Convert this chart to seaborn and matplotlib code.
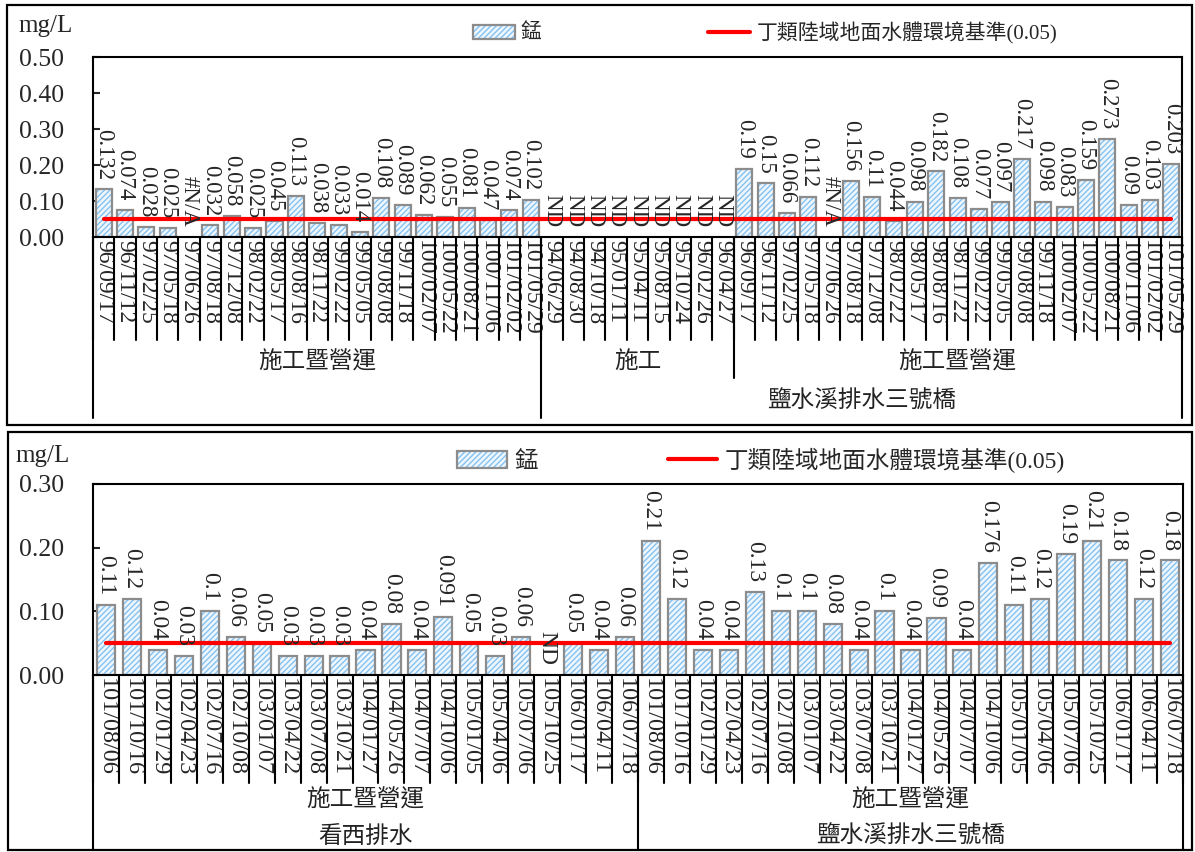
import numpy as np
import pandas as pd
import matplotlib
matplotlib.use("Agg")
import matplotlib.pyplot as plt
import seaborn as sns
from matplotlib.patches import Patch, Rectangle
from matplotlib.lines import Line2D
from matplotlib.legend_handler import HandlerTuple

# ------------------------------------------------------------------ data
top_dates_a = ["96/09/17", "96/11/12", "97/02/25", "97/05/18", "97/06/26", "97/08/18",
               "97/12/08", "98/02/22", "98/05/17", "98/08/16", "98/11/22", "99/02/22",
               "99/05/05", "99/08/08", "99/11/18", "100/02/07", "100/05/22", "100/08/21",
               "100/11/06", "101/02/02", "101/05/29"]
top_values_a = [0.132, 0.074, 0.028, 0.025, "#N/A", 0.032, 0.058, 0.025, 0.045, 0.113,
                0.038, 0.033, 0.014, 0.108, 0.089, 0.062, 0.055, 0.081, 0.047, 0.074, 0.102]
top_dates_b = ["94/06/29", "94/08/30", "94/10/18", "95/01/11", "95/04/11", "95/08/15",
               "95/10/24", "96/02/26", "96/04/27"]
top_values_b = ["ND", "ND", "ND", "ND", "ND", "ND", "ND", "ND", "ND"]
top_dates_c = ["96/09/17", "96/11/12", "97/02/25", "97/05/18", "97/06/26", "97/08/18",
               "97/12/08", "98/02/22", "98/05/17", "98/08/16", "98/11/22", "99/02/22",
               "99/05/05", "99/08/08", "99/11/18", "100/02/07", "100/05/22", "100/08/21",
               "100/11/06", "101/02/02", "101/05/29"]
top_values_c = [0.19, 0.15, 0.066, 0.112, "#N/A", 0.156, 0.11, 0.044, 0.098, 0.182,
                0.108, 0.077, 0.097, 0.217, 0.098, 0.083, 0.159, 0.273, 0.09, 0.103, 0.203]
top_groups = ["施工暨營運", "施工", "施工暨營運"]
top_station = "鹽水溪排水三號橋"

bottom_dates = ["101/08/06", "101/10/16", "102/01/29", "102/04/23", "102/07/16", "102/10/08",
                "103/01/07", "103/04/22", "103/07/08", "103/10/21", "104/01/27", "104/05/26",
                "104/07/07", "104/10/06", "105/01/05", "105/04/06", "105/07/06", "105/10/25",
                "106/01/17", "106/04/11", "106/07/18"]
bottom_values_a = [0.11, 0.12, 0.04, 0.03, 0.1, 0.06, 0.05, 0.03, 0.03, 0.03, 0.04, 0.08,
                   0.04, 0.091, 0.05, 0.03, 0.06, "ND", 0.05, 0.04, 0.06]
bottom_values_b = [0.21, 0.12, 0.04, 0.04, 0.13, 0.1, 0.1, 0.08, 0.04, 0.1, 0.04, 0.09,
                   0.04, 0.176, 0.11, 0.12, 0.19, 0.21, 0.18, 0.12, 0.18]
bottom_groups = ["施工暨營運", "施工暨營運"]
bottom_stations = ["看西排水", "鹽水溪排水三號橋"]

series_name = "錳"
standard_name = "丁類陸域地面水體環境基準(0.05)"
standard_value = 0.05
unit = "mg/L"
top_yticks = [0.0, 0.1, 0.2, 0.3, 0.4, 0.5]
bottom_yticks = [0.0, 0.1, 0.2, 0.3]

# ------------------------------------------------------------------ style
sns.set_style("white")
plt.rcParams["font.family"] = ["Liberation Serif", "Noto Sans CJK TC"]
plt.rcParams["hatch.linewidth"] = 1.0

FILL = "#eef6fe"
HATCH = "#86c2f0"
EDGE = "#8c8c8c"
W, H = 1195, 852

fig = plt.figure(figsize=(W / 100, H / 100), dpi=100)


def fx(px):
    return px / W


def fy(py):
    return 1 - py / H


def draw_panel(ax, dates, values, bar_w, ax_h_px, yticks, tick_fs, val_fs,
               groups, group_bounds, stations, station_bounds,
               tick_sep, group_sep, station_sep, group_y, station_y):
    n = len(dates)
    nums = [v if isinstance(v, (int, float)) else np.nan for v in values]
    df = pd.DataFrame({"pos": list(range(n)), "value": nums})
    order = list(range(n))
    sns.barplot(data=df, x="pos", y="value", order=order, width=bar_w, color=FILL,
                saturation=1, errorbar=None, edgecolor=HATCH, linewidth=0,
                hatch="//////", ax=ax, zorder=2)
    n0 = len(ax.patches)
    sns.barplot(data=df, x="pos", y="value", order=order, width=bar_w, color=FILL,
                saturation=1, errorbar=None, ax=ax, zorder=2.5)
    for p in ax.patches[n0:]:
        p.set_facecolor("none")
        p.set_edgecolor(EDGE)
        p.set_linewidth(1.6)
    sns.lineplot(x=list(range(n)), y=[standard_value] * n, color="red", linewidth=3,
                 ax=ax, zorder=3)
    for i, v in enumerate(values):
        num = isinstance(v, (int, float))
        ax.annotate(str(v), (i, v if num else 0), xytext=(0, 7),
                    textcoords="offset points", rotation=270, ha="center",
                    va="bottom", fontsize=val_fs, zorder=4)
    ax.set_xlim(-0.5, n - 0.5)
    ax.set_ylim(yticks[0], yticks[-1])
    ax.set_yticks(yticks)
    ax.set_yticklabels([f"{t:.2f}" for t in yticks], fontsize=18.5)
    ax.set_xticks(range(n))
    ax.set_xticklabels(dates, rotation=270, fontsize=tick_fs)
    ax.tick_params(axis="x", length=0, pad=2)
    ax.tick_params(axis="y", direction="in", length=5, width=1.5, pad=21, left=True)
    ax.set_xlabel("")
    ax.set_ylabel("")
    for s in ax.spines.values():
        s.set_visible(True)
        s.set_color("black")
        s.set_linewidth(1.5)
    trans = ax.get_xaxis_transform()
    # category separators
    for b in np.arange(-0.5, n, 1.0):
        ax.plot([b, b], [0, -tick_sep / ax_h_px], transform=trans, color="black",
                lw=1.5, clip_on=False, zorder=5)
    for b in group_bounds:
        ax.plot([b, b], [0, -group_sep / ax_h_px], transform=trans, color="black",
                lw=1.5, clip_on=False, zorder=5)
    for b in station_bounds:
        ax.plot([b, b], [0, -station_sep / ax_h_px], transform=trans, color="black",
                lw=1.5, clip_on=False, zorder=5)
    for label, (a, b) in groups:
        ax.text((a + b) / 2, -group_y / ax_h_px, label, transform=trans, ha="center",
                va="center", fontsize=17, color="#222222")
    for label, (a, b) in stations:
        ax.text((a + b) / 2, -station_y / ax_h_px, label, transform=trans, ha="center",
                va="center", fontsize=17, color="#222222")
    ax.set_xlim(-0.5, n - 0.5)


# ------------------------------------------------------------------ top panel
top_dates = top_dates_a + top_dates_b + top_dates_c
top_values = top_values_a + top_values_b + top_values_c
na, nb, nc = len(top_dates_a), len(top_dates_b), len(top_dates_c)
ntop = na + nb + nc
ax1 = fig.add_axes([fx(93), fy(237), fx(1182) - fx(93), (237 - 57) / H])
draw_panel(ax1, top_dates, top_values, 0.75, 180, top_yticks, 17, 16.5,
           groups=[(top_groups[0], (0, na - 1)), (top_groups[1], (na, na + nb - 1)),
                   (top_groups[2], (na + nb, ntop - 1))],
           group_bounds=[na + nb - 0.5],
           stations=[(top_station, (na, ntop - 1))],
           station_bounds=[-0.5, na - 0.5, ntop - 0.5],
           tick_sep=103, group_sep=141, station_sep=181, group_y=125, station_y=165)

# ------------------------------------------------------------------ bottom panel
bot_dates = bottom_dates + bottom_dates
bot_values = bottom_values_a + bottom_values_b
nba = len(bottom_values_a)
nbot = len(bot_values)
ax2 = fig.add_axes([fx(93), fy(675), fx(1183) - fx(93), (675 - 484) / H])
draw_panel(ax2, bot_dates, bot_values, 0.7, 191, bottom_yticks, 17.5, 17,
           groups=[(bottom_groups[0], (0, nba - 1)), (bottom_groups[1], (nba, nbot - 1))],
           group_bounds=[],
           stations=[(bottom_stations[0], (0, nba - 1)), (bottom_stations[1], (nba, nbot - 1))],
           station_bounds=[-0.5, nba - 0.5, nbot - 0.5],
           tick_sep=108, group_sep=108, station_sep=175, group_y=125, station_y=162)

# ------------------------------------------------------------------ frames, units, legends
fig.add_artist(Rectangle((fx(7), fy(425)), fx(1192) - fx(7), (425 - 5) / H,
                         transform=fig.transFigure, fill=False, lw=1.6, ec="black"))
fig.add_artist(Rectangle((fx(8), fy(850)), fx(1192) - fx(8), (850 - 432) / H,
                         transform=fig.transFigure, fill=False, lw=1.6, ec="black"))
fig.text(fx(18), fy(26), unit, ha="left", va="center", fontsize=18)
fig.text(fx(15), fy(456), unit, ha="left", va="center", fontsize=18)

bar_handle = (Patch(facecolor=FILL, edgecolor=HATCH, hatch="//////", linewidth=0),
              Patch(facecolor="none", edgecolor=EDGE, linewidth=1.6))
line_handle = Line2D([0], [0], color="red", linewidth=3)
legend_specs = [
    # (center x px, center y px, fontsize, handlelength, columnspacing)
    (765, 33, 15, 2.0, 8.0),
    (761, 460, 17, 2.1, 5.5),
]
for cx, cy, fs, hl, cs in legend_specs:
    fig.legend(handles=[bar_handle, line_handle], labels=[series_name, standard_name],
               loc="center", bbox_to_anchor=(fx(cx), fy(cy)), ncol=2, frameon=False,
               fontsize=fs, handlelength=hl, handletextpad=0.3, columnspacing=cs,
               handler_map={tuple: HandlerTuple(ndivide=1)})

fig.savefig("out.png", dpi=100, facecolor="white")
